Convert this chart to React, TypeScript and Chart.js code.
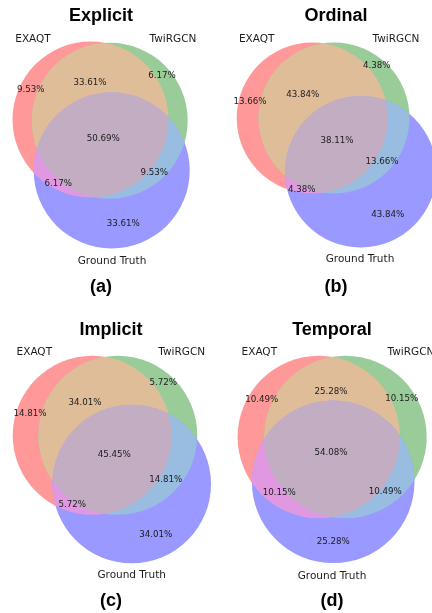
import React, { useEffect, useRef } from "react";
import { Chart, registerables } from "chart.js";

Chart.register(...registerables);

// ---------------- data ----------------
const PANEL_TITLES = ["Explicit", "Ordinal", "Implicit", "Temporal"];
const PANEL_TAGS = ["(a)", "(b)", "(c)", "(d)"];
const SET_NAMES = ["EXAQT", "TwiRGCN", "Ground Truth"];
// region order: EXAQT only, TwiRGCN only, EXAQT∩TwiRGCN, GT only, EXAQT∩GT, TwiRGCN∩GT, all three
const REGION_KEYS = ["100", "010", "110", "001", "101", "011", "111"];
const EXPLICIT = [9.53, 6.17, 33.61, 33.61, 6.17, 9.53, 50.69];
const ORDINAL = [13.66, 4.38, 43.84, 43.84, 4.38, 13.66, 38.11];
const IMPLICIT = [14.81, 5.72, 34.01, 34.01, 5.72, 14.81, 45.45];
const TEMPORAL = [10.49, 10.15, 25.28, 25.28, 10.15, 10.49, 54.08];
const PANEL_VALUES = [EXPLICIT, ORDINAL, IMPLICIT, TEMPORAL];

// ---------------- styles ----------------
const REGION_COLORS: Record<string, string> = {
  "100": "rgb(255,153,153)",
  "010": "rgb(153,204,153)",
  "110": "rgb(224,189,153)",
  "001": "rgb(153,153,255)",
  "101": "rgb(224,153,224)",
  "011": "rgb(153,189,224)",
  "111": "rgb(194,173,194)",
};
const LABEL_FONT = '10.5px "DejaVu Sans"';
const VALUE_FONT = '8.7px "DejaVu Sans"';
const TITLE_FONT = 'bold 18px "Liberation Sans", Arial, sans-serif';
const TEXT_COLOR = "#1c1c1c";

// ---------------- layout (panel-local units) ----------------
type Pt = [number, number];
type Layout = {
  left: number;
  top: number;
  width: number;
  height: number;
  circles: [number, number, number][];
  setLabels: Pt[];
  regionLabels: Pt[];
  title: Pt;
  tag: Pt;
};

const LAYOUTS: Layout[] = [
  {
    left: 0, top: 0, width: 216, height: 306,
    circles: [[90.5, 119.5, 78], [109.7, 120.7, 78], [111.7, 170.5, 78]],
    setLabels: [[33, 39], [173, 39], [112, 261]],
    regionLabels: [[30.7, 89.3], [162, 75.3], [90, 82.7], [123.3, 223.3], [58.3, 183.7], [154.3, 172.3], [103.3, 139]],
    title: [101, 15.7],
    tag: [101, 287],
  },
  {
    left: 216, top: 0, width: 216, height: 306,
    circles: [[96.2, 118, 75.5], [118, 118, 75.5], [144.7, 171.7, 75.7]],
    setLabels: [[40.7, 39], [180, 39], [144, 259]],
    regionLabels: [[34, 101.7], [160.7, 66], [86.7, 94.3], [171.7, 214.7], [85.7, 189.3], [166, 162], [121, 141]],
    title: [120, 15.7],
    tag: [120, 287],
  },
  {
    left: 0, top: 306, width: 216, height: 307,
    circles: [[92.2, 129.3, 79.5], [117.8, 129.3, 79.5], [131.7, 178, 79.3]],
    setLabels: [[34.3, 46.7], [181.7, 46.7], [131.7, 269.3]],
    regionLabels: [[30, 107.3], [163.3, 76.7], [85, 96.7], [155.7, 228.7], [72.3, 199], [165.7, 173.3], [114.3, 148.3]],
    title: [111, 24],
    tag: [111, 295],
  },
  {
    left: 216, top: 306, width: 216, height: 307,
    circles: [[102.8, 131, 81.2], [129.5, 131, 81.2], [117.2, 175.8, 81.3]],
    setLabels: [[43.3, 46.7], [195, 46.7], [116, 270]],
    regionLabels: [[45.7, 94], [185.7, 92.7], [115, 85.3], [117.3, 235.3], [63.3, 186.7], [169.3, 185.7], [115, 146.7]],
    title: [116, 24],
    tag: [116, 295],
  },
];

function makeVennPlugin(idx: number) {
  const lay = LAYOUTS[idx];
  return {
    id: "venn" + idx,
    beforeDatasetsDraw(chart: any) {
      const { ctx } = chart;
      const xs = chart.scales.x;
      const ys = chart.scales.y;
      const path = (i: number) => {
        const [cx, cy, r] = lay.circles[i];
        const px = xs.getPixelForValue(cx);
        const py = ys.getPixelForValue(cy);
        const pr = xs.getPixelForValue(cx + r) - px;
        ctx.beginPath();
        ctx.arc(px, py, pr, 0, Math.PI * 2);
      };
      ctx.save();
      // single sets
      [0, 1, 2].forEach((i) => {
        const key = ["100", "010", "001"][i];
        ctx.fillStyle = REGION_COLORS[key];
        path(i);
        ctx.fill();
      });
      // pairwise
      const pairs: [number, number, string][] = [
        [0, 1, "110"],
        [0, 2, "101"],
        [1, 2, "011"],
      ];
      pairs.forEach(([a, b, key]) => {
        ctx.save();
        path(a);
        ctx.clip();
        ctx.fillStyle = REGION_COLORS[key];
        path(b);
        ctx.fill();
        ctx.restore();
      });
      // triple
      ctx.save();
      path(0);
      ctx.clip();
      path(1);
      ctx.clip();
      ctx.fillStyle = REGION_COLORS["111"];
      path(2);
      ctx.fill();
      ctx.restore();
      ctx.restore();
    },
    afterDatasetsDraw(chart: any) {
      const { ctx } = chart;
      const xs = chart.scales.x;
      const ys = chart.scales.y;
      const values = PANEL_VALUES[idx];
      ctx.save();
      ctx.textAlign = "center";
      ctx.textBaseline = "middle";
      ctx.fillStyle = TEXT_COLOR;
      ctx.font = VALUE_FONT;
      REGION_KEYS.forEach((_k, i) => {
        const [x, y] = lay.regionLabels[i];
        ctx.fillText(values[i].toFixed(2) + "%", xs.getPixelForValue(x), ys.getPixelForValue(y));
      });
      ctx.font = LABEL_FONT;
      SET_NAMES.forEach((name, i) => {
        const [x, y] = lay.setLabels[i];
        ctx.fillText(name, xs.getPixelForValue(x), ys.getPixelForValue(y));
      });
      ctx.fillStyle = "#000";
      ctx.font = TITLE_FONT;
      ctx.fillText(PANEL_TITLES[idx], xs.getPixelForValue(lay.title[0]), ys.getPixelForValue(lay.title[1]));
      ctx.fillText(PANEL_TAGS[idx], xs.getPixelForValue(lay.tag[0]), ys.getPixelForValue(lay.tag[1]));
      ctx.restore();
    },
  };
}

function VennPanel({ idx }: { idx: number }) {
  const ref = useRef<HTMLCanvasElement | null>(null);
  const lay = LAYOUTS[idx];
  useEffect(() => {
    if (!ref.current) return;
    const values = PANEL_VALUES[idx];
    const chart = new Chart(ref.current, {
      type: "scatter",
      data: {
        datasets: [
          {
            label: PANEL_TITLES[idx],
            data: lay.regionLabels.map(([x, y], i) => ({ x, y, v: values[i] })) as any,
            pointRadius: 0,
            pointHoverRadius: 0,
          },
        ],
      },
      options: {
        animation: false,
        responsive: false,
        events: [],
        layout: { padding: 0 },
        plugins: {
          legend: { display: false },
          tooltip: { enabled: false },
          title: { display: false },
        },
        scales: {
          x: { type: "linear", display: false, min: 0, max: lay.width },
          y: { type: "linear", display: false, min: 0, max: lay.height, reverse: true },
        },
      },
      plugins: [makeVennPlugin(idx)],
    });
    return () => chart.destroy();
  }, [idx]);
  return (
    <div
      style={{
        position: "absolute",
        left: lay.left,
        top: lay.top,
        width: lay.width,
        height: lay.height,
      }}
    >
      <canvas ref={ref} width={lay.width} height={lay.height} style={{ display: "block" }} />
    </div>
  );
}

export default function App() {
  return (
    <div style={{ position: "absolute", left: 0, top: 0, width: 432, height: 613, background: "#fff", overflow: "hidden" }}>
      {LAYOUTS.map((_l, i) => (
        <VennPanel key={i} idx={i} />
      ))}
    </div>
  );
}
